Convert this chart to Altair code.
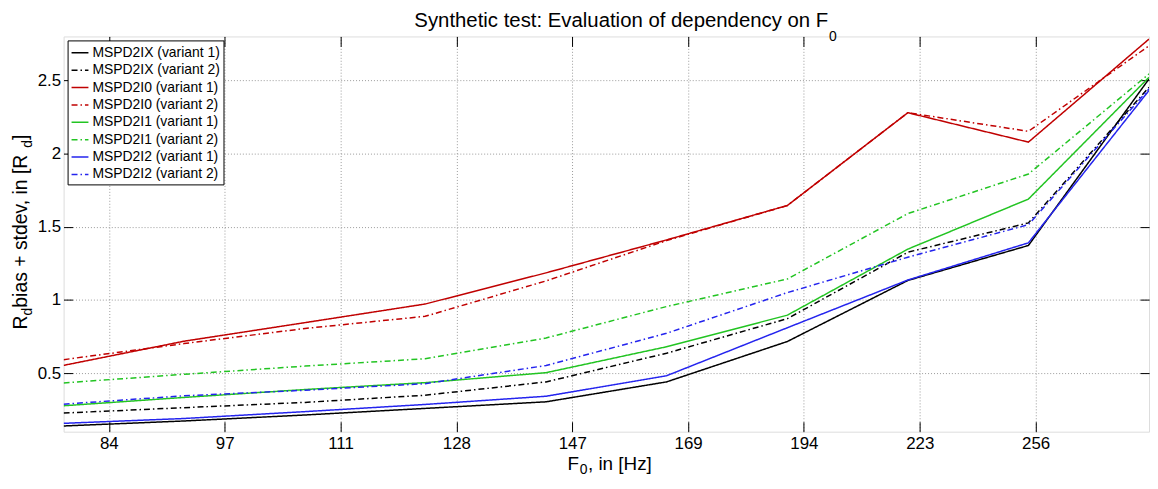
import altair as alt
import pandas as pd

# ---------------- data ----------------
f0 = [80.0, 92.4, 106.8, 123.3, 142.5, 164.6, 190.2, 219.7, 253.8, 293.2]

series_names = [
    "MSPD2IX (variant 1)", "MSPD2IX (variant 2)",
    "MSPD2I0 (variant 1)", "MSPD2I0 (variant 2)",
    "MSPD2I1 (variant 1)", "MSPD2I1 (variant 2)",
    "MSPD2I2 (variant 1)", "MSPD2I2 (variant 2)",
]

ix_v1 = [0.139, 0.173, 0.214, 0.259, 0.304, 0.440, 0.716, 1.133, 1.372, 2.510]
ix_v2 = [0.227, 0.264, 0.300, 0.349, 0.440, 0.636, 0.872, 1.326, 1.526, 2.453]
i0_v1 = [0.553, 0.718, 0.845, 0.972, 1.185, 1.410, 1.645, 2.279, 2.078, 2.782]
i0_v2 = [0.592, 0.702, 0.805, 0.888, 1.130, 1.405, 1.645, 2.279, 2.152, 2.736]
i1_v1 = [0.277, 0.334, 0.388, 0.435, 0.503, 0.680, 0.896, 1.347, 1.689, 2.521]
i1_v2 = [0.433, 0.492, 0.548, 0.598, 0.740, 0.955, 1.143, 1.590, 1.860, 2.544]
i2_v1 = [0.157, 0.190, 0.237, 0.286, 0.342, 0.482, 0.810, 1.136, 1.390, 2.431]
i2_v2 = [0.288, 0.345, 0.383, 0.428, 0.552, 0.772, 1.050, 1.292, 1.514, 2.442]

series_values = [ix_v1, ix_v2, i0_v1, i0_v2, i1_v1, i1_v2, i2_v1, i2_v2]

x_ticks = [84.45, 97.01, 111.43, 128.0, 147.03, 168.9, 194.01, 222.86, 256.0]
y_ticks = [0.5, 1.0, 1.5, 2.0, 2.5]

title_main = "Synthetic test: Evaluation of dependency on F"
title_sub = "0"
xtitle_parts = ["F", "0", ", in [Hz]"]
ytitle_parts = ["R", "d", " bias + stdev, in [R", "d", "]"]

# ---------------- styles ----------------
FONT = "Liberation Sans"
colors = ["#000000", "#000000", "#c00000", "#c00000",
          "#22c422", "#22c422", "#2424ee", "#2424ee"]
dashes = [[1, 0], [6, 3, 1.5, 3]] * 4

W, H = 1093, 398

rows = []
for name, vals in zip(series_names, series_values):
    for x, v in zip(f0, vals):
        rows.append({"series": name, "F0": x, "value": v})
df = pd.DataFrame(rows)

xscale = alt.Scale(type="log", domain=[80, 293.2], nice=False, zero=False)
yscale = alt.Scale(domain=[0.1, 2.8], nice=False, zero=False)

legend = alt.Legend(
    title=None, orient="top-left", offset=4, strokeColor="black",
    fillColor="white", padding=3, symbolType="stroke", symbolSize=289,
    symbolStrokeWidth=1.5, labelFont=FONT, labelFontSize=14,
    labelColor="black", rowPadding=0.5, labelOffset=3, labelLimit=400,
)

lines = alt.Chart(df).mark_line(strokeWidth=1.5, clip=True).encode(
    x=alt.X("F0:Q", scale=xscale, axis=alt.Axis(
        values=x_ticks, labelExpr="format(datum.value, '.0f')", title=None,
        grid=True, gridDash=[1, 2], gridColor="#9a9a9a", gridWidth=1,
        domain=False, tickSize=10, offset=-10, labelPadding=4,
        labelFont=FONT, labelFontSize=17, labelColor="black",
        tickColor="black", tickWidth=1, labelFlush=False)),
    y=alt.Y("value:Q", scale=yscale, axis=alt.Axis(
        values=y_ticks, format="~g", title=None,
        grid=True, gridDash=[1, 2], gridColor="#9a9a9a", gridWidth=1,
        domain=False, tickSize=9, offset=-9, labelPadding=3,
        labelFont=FONT, labelFontSize=17, labelColor="black",
        tickColor="black", tickWidth=1, labelFlush=False)),
    color=alt.Color("series:N", scale=alt.Scale(domain=series_names, range=colors), legend=legend),
    strokeDash=alt.StrokeDash("series:N", scale=alt.Scale(domain=series_names, range=dashes), legend=legend),
)

opp_ticks = alt.Chart(df).mark_line(opacity=0).encode(
    x=alt.X("F0:Q", scale=xscale, axis=alt.Axis(
        orient="top", values=x_ticks, labels=False, title=None, grid=False,
        domain=False, tickSize=10, offset=-10, tickColor="black", tickWidth=1)),
    y=alt.Y("value:Q", scale=yscale, axis=alt.Axis(
        orient="right", values=y_ticks, labels=False, title=None, grid=False,
        domain=False, tickSize=9, offset=-9, tickColor="black", tickWidth=1)),
    detail="series:N",
)

one = pd.DataFrame({"k": [0]})


def txt(text, x, y, size, align="left", angle=0, dx=0, dy=0):
    kw = dict(text=text, font=FONT, fontSize=size, align=align,
              baseline="alphabetic", color="black")
    if dx:
        kw["dx"] = dx
    if dy:
        kw["dy"] = dy
    if angle:
        kw["angle"] = angle
    return alt.Chart(one).mark_text(**kw).encode(x=alt.value(x), y=alt.value(y))


# title: both pieces right-aligned around the junction
tj = 770
t1 = txt(title_main, tj, -10, 20.5, align="right")
t2 = txt(title_sub, tj + 8.5, 5, 14, align="right")

# x title
xa = 519
x1 = txt(xtitle_parts[0], xa, 437, 19, align="right")
x2 = txt(xtitle_parts[1], xa + 8.5, 440.5, 14, align="right")
x3 = txt(xtitle_parts[2], xa + 9, 437, 19, align="left")

# y title (rotated, reading upwards)
ys = 19.5
ss = 14
yx, yy = -37, 295
w_R = 0.722 * ys
w_d = 0.556 * ss
w_mid = 8.254 * ys
y1 = txt(ytitle_parts[0], yx, yy, ys, angle=270)
y2 = txt(ytitle_parts[1], yx, yy, ss, angle=270, dx=w_R, dy=5)
y3 = txt(ytitle_parts[2], yx, yy, ys, angle=270, dx=w_R + w_d)
y4 = txt(ytitle_parts[3], yx, yy, ss, angle=270, dx=w_R + w_d + w_mid, dy=5)
y5 = txt(ytitle_parts[4], yx, yy, ys, angle=270, dx=w_R + 2 * w_d + w_mid)

chart = alt.layer(
    lines, opp_ticks, t1, t2, x1, x2, x3, y1, y2, y3, y4, y5
).resolve_axis(x="independent", y="independent").properties(
    width=W, height=H,
    autosize=alt.AutoSizeParams(type="none"),
    padding={"left": 56, "top": 27, "right": 1, "bottom": 44},
).configure_view(stroke="black", strokeWidth=1).configure(background="white")

chart.save("out.html", embed_options={"renderer": "svg", "actions": False})
